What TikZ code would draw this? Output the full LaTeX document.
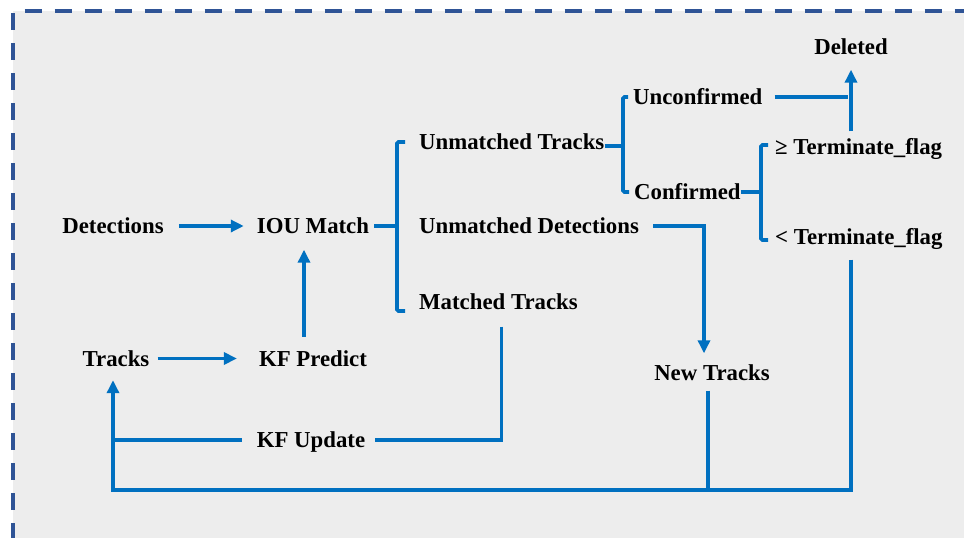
\documentclass[tikz,border=0pt]{standalone}
\usepackage{fontspec}
\setmainfont{Liberation Serif}
\usetikzlibrary{arrows.meta, positioning}
\definecolor{flowblue}{HTML}{0070C0}
\definecolor{frameblue}{HTML}{2F5496}
\definecolor{panelgray}{HTML}{EDEDED}

\begin{document}
\begin{tikzpicture}[x=1pt, y=-1pt,
    lbl/.style={font=\fontsize{22.8}{27}\selectfont\bfseries, inner sep=0pt, text height=15pt, text depth=0pt},
    flow/.style={draw=flowblue, line width=3.8pt},
    arr/.style={flow, -{Triangle[length=13pt, width=12pt]}},
    brace/.style={flow, rounded corners=1.5pt}]
    \useasboundingbox (0, 0) rectangle (964, 538);
    % dashed panel
    \fill[panelgray] (13, 11) rectangle (975, 545);
    \draw[frameblue, line width=4pt, dash pattern=on 17pt off 13pt] (13, 539.5) -- (13, 11) -- (975, 11);
    \draw[frameblue!50, line width=4pt, dash pattern=on 17pt off 13pt] (13, 539.5) -- (975, 539.5);

    \node[lbl] (det) at (113, 226) {Detections};
    \node[lbl] (iou) at (313, 226) {IOU Match};
    \node[lbl] (tracks) at (116, 358.5) {Tracks};
    \node[lbl] (kfp) at (313, 358.5) {KF Predict};
    \node[lbl] (kfu) at (311, 440) {KF Update};
    \node[lbl, anchor=west] (umt) at (419, 142) {Unmatched Tracks};
    \node[lbl, anchor=west] (umd) at (419, 226) {Unmatched Detections};
    \node[lbl, anchor=west] (mt) at (419, 302) {Matched Tracks};
    \node[lbl, anchor=west] (unconf) at (633, 97) {Unconfirmed};
    \node[lbl, anchor=west] (conf) at (634, 192) {Confirmed};
    \node[lbl, anchor=west] (ge) at (775, 147) {≥ Terminate\_flag};
    \node[lbl, anchor=west] (lt) at (775, 237) {< Terminate\_flag};
    \node[lbl] (del) at (851, 47) {Deleted};
    \node[lbl] (newt) at (712, 373) {New Tracks};

    \coordinate (b1) at (397, 226);
    \coordinate (b2) at (623, 146);
    \coordinate (b3) at (761, 192);
    \coordinate (loop) at (113, 490);

    % predict and match
    \draw[arr, shorten <=15pt, shorten >=13pt] (det) -- (iou);
    \draw[arr, shorten <=8pt, shorten >=22pt] (tracks) -- (kfp);
    \draw[arr, shorten <=14pt, shorten >=16pt] ([xshift=-9pt]kfp.north) -- ([xshift=-9pt]iou.south);

    % match results
    \draw[flow, shorten <=5pt] (iou.east) -- (b1);
    \draw[brace] ([xshift=-14pt]umt.west) -| (b1) |- ([xshift=-14pt, yshift=-9pt]mt.west);
    \draw[flow] (umt.east |- b2) -- (b2);
    \draw[brace] ([xshift=-5pt]unconf.west) -| (b2) |- ([xshift=-5pt]conf.west);
    \draw[flow] (conf.east) -- (b3);
    \draw[brace] ([xshift=-7pt, yshift=2pt]ge.west) -| (b3) |- ([xshift=-7pt, yshift=-3pt]lt.west);

    % deleting
    \draw[flow, shorten <=12pt, shorten >=3pt] (unconf.east) -- (unconf.east -| del);
    \draw[arr, shorten <=8pt, shorten >=15pt] (ge.north -| del) -- (del.south);

    % back to tracks
    \draw[arr, shorten <=15pt, shorten >=14pt] (lt.south -| del) |- (loop) -- (tracks.south -| loop);
    \draw[flow, shorten <=10pt] ([xshift=-4pt]newt.south) -- ([xshift=-4pt]newt.south |- loop);
    \draw[arr, shorten <=14pt, shorten >=12pt] (umd.east) -| ([xshift=-8pt]newt.north);
    \draw[flow, shorten <=17pt, shorten >=10pt] ([xshift=3pt]mt.south) |- (kfu.east);
    \draw[flow, shorten <=15pt, shorten >=-2pt] (kfu.west) -- (kfu.west -| tracks.south);
\end{tikzpicture}
\end{document}
